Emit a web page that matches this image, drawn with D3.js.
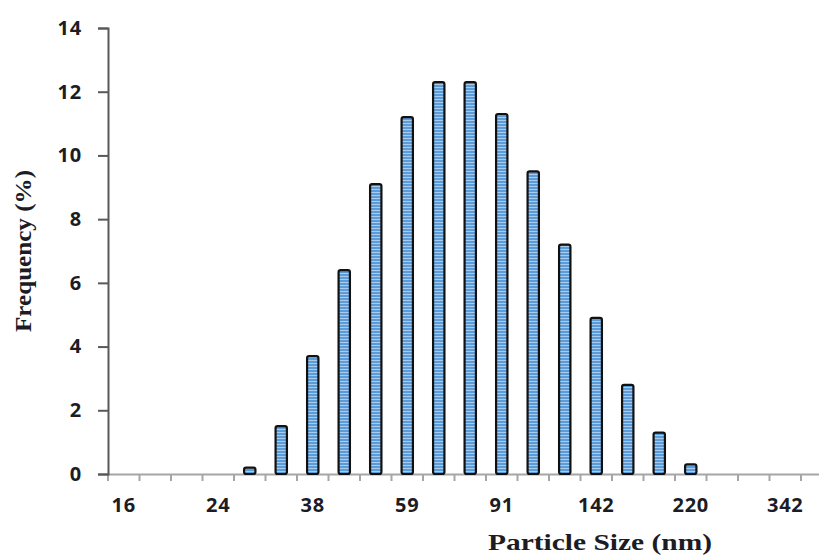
<!DOCTYPE html>
<html>
<head>
<meta charset="utf-8">
<script src="https://cdn.jsdelivr.net/npm/d3@7/dist/d3.min.js"></script>
<style>
  body { margin: 0; background: #fff; }
  svg { display: block; }
</style>
</head>
<body>
<div id="chart-area"></div>
<script>
// size bins (nm), every third one is labelled
const sizes = ["16", "18", "21", "24", "28", "33", "38", "44", "51", "59", "68", "79",
  "91", "106", "122", "142", "164", "190", "220", "255", "295", "342", "396"]
const frequency = [0, 0, 0, 0, 0.2, 1.5, 3.7, 6.4, 9.1, 11.2, 12.3, 12.3,
  11.3, 9.5, 7.2, 4.9, 2.8, 1.3, 0.3, 0, 0, 0, 0]
const shownLabels = ["16", "24", "38", "59", "91", "142", "220", "342"]
const yTicks = [0, 2, 4, 6, 8, 10, 12, 14]

const data = sizes.map((s, i) => ({ size: s, value: frequency[i] }))

const chartMargin = { left: 108, top: 28 }
const chartWidth = 724.5
const chartHeight = 446

const svg = d3.select("#chart-area").append("svg")
  .attr("width", 819)
  .attr("height", 556)

// striped blue fill like the original bars
const pat = svg.append("defs").append("pattern")
  .attr("id", "stripes")
  .attr("patternUnits", "userSpaceOnUse")
  .attr("width", 4)
  .attr("height", 3)
pat.append("rect").attr("width", 4).attr("height", 3).attr("fill", "#5b9bd8")
pat.append("rect").attr("y", 2).attr("width", 4).attr("height", 1).attr("fill", "#a8cbee")

const g = svg.append("g")
  .attr("transform", `translate(${chartMargin.left}, ${chartMargin.top})`)

const x = d3.scaleBand()
  .domain(sizes)
  .range([0, chartWidth])
  .paddingInner(0.64)
  .paddingOuter(0.32)

const y = d3.scaleLinear()
  .domain([0, 14])
  .range([chartHeight, 0])

// x axis: labels at every third bin, ticks on bin edges
const xAxisCall = d3.axisBottom(x)
  .tickSize(0)
  .tickPadding(24)
  .tickFormat(d => shownLabels.includes(d) ? d : "")

const xAxis = g.append("g")
  .attr("transform", `translate(0, ${chartHeight})`)
  .call(xAxisCall)
xAxis.select(".domain").attr("stroke", "#a6a6a6").attr("stroke-width", 2)
xAxis.selectAll("text")
  .attr("font-family", "'Open Sans', sans-serif")
  .attr("font-weight", "bold")
  .attr("font-size", "20px")
  .attr("letter-spacing", "0.8px")
  .attr("fill", "#1c1c24")

const edge = d => x(d) - (x.step() - x.bandwidth()) / 2
g.append("g").selectAll("line")
  .data(sizes)
  .enter().append("line")
  .attr("x1", edge)
  .attr("x2", edge)
  .attr("y1", chartHeight)
  .attr("y2", chartHeight + 7)
  .attr("stroke", "#a6a6a6")
  .attr("stroke-width", 2)

// y axis
const yAxisCall = d3.axisLeft(y)
  .tickValues(yTicks)
  .tickSizeInner(10)
  .tickSizeOuter(10)
  .tickPadding(16)

const yAxis = g.append("g").call(yAxisCall)
yAxis.selectAll("path, line").attr("stroke", "#595959").attr("stroke-width", 2)
yAxis.selectAll("text")
  .attr("font-family", "'Open Sans', sans-serif")
  .attr("font-weight", "bold")
  .attr("font-size", "20px")
  .attr("letter-spacing", "0.8px")
  .attr("fill", "#1c1c24")

// bars
g.selectAll("rect.bar")
  .data(data.filter(d => d.value > 0))
  .enter().append("rect")
  .attr("class", "bar")
  .attr("x", d => x(d.size))
  .attr("y", d => y(d.value))
  .attr("width", x.bandwidth())
  .attr("height", d => chartHeight - y(d.value))
  .attr("rx", 2)
  .attr("fill", "url(#stripes)")
  .attr("stroke", "#111")
  .attr("stroke-width", 2.2)

// axis titles
svg.append("text")
  .attr("x", 600)
  .attr("y", 550)
  .attr("text-anchor", "middle")
  .attr("font-family", "'Liberation Serif', serif")
  .attr("font-weight", "bold")
  .attr("font-size", "24px")
  .attr("fill", "#1c1c24")
  .attr("textLength", 224)
  .attr("lengthAdjust", "spacingAndGlyphs")
  .text("Particle Size (nm)")

svg.append("text")
  .attr("transform", "translate(31, 251) rotate(-90)")
  .attr("text-anchor", "middle")
  .attr("font-family", "'Liberation Serif', serif")
  .attr("font-weight", "bold")
  .attr("font-size", "24px")
  .attr("fill", "#1c1c24")
  .attr("textLength", 162)
  .attr("lengthAdjust", "spacingAndGlyphs")
  .text("Frequency (%)")
</script>
</body>
</html>
